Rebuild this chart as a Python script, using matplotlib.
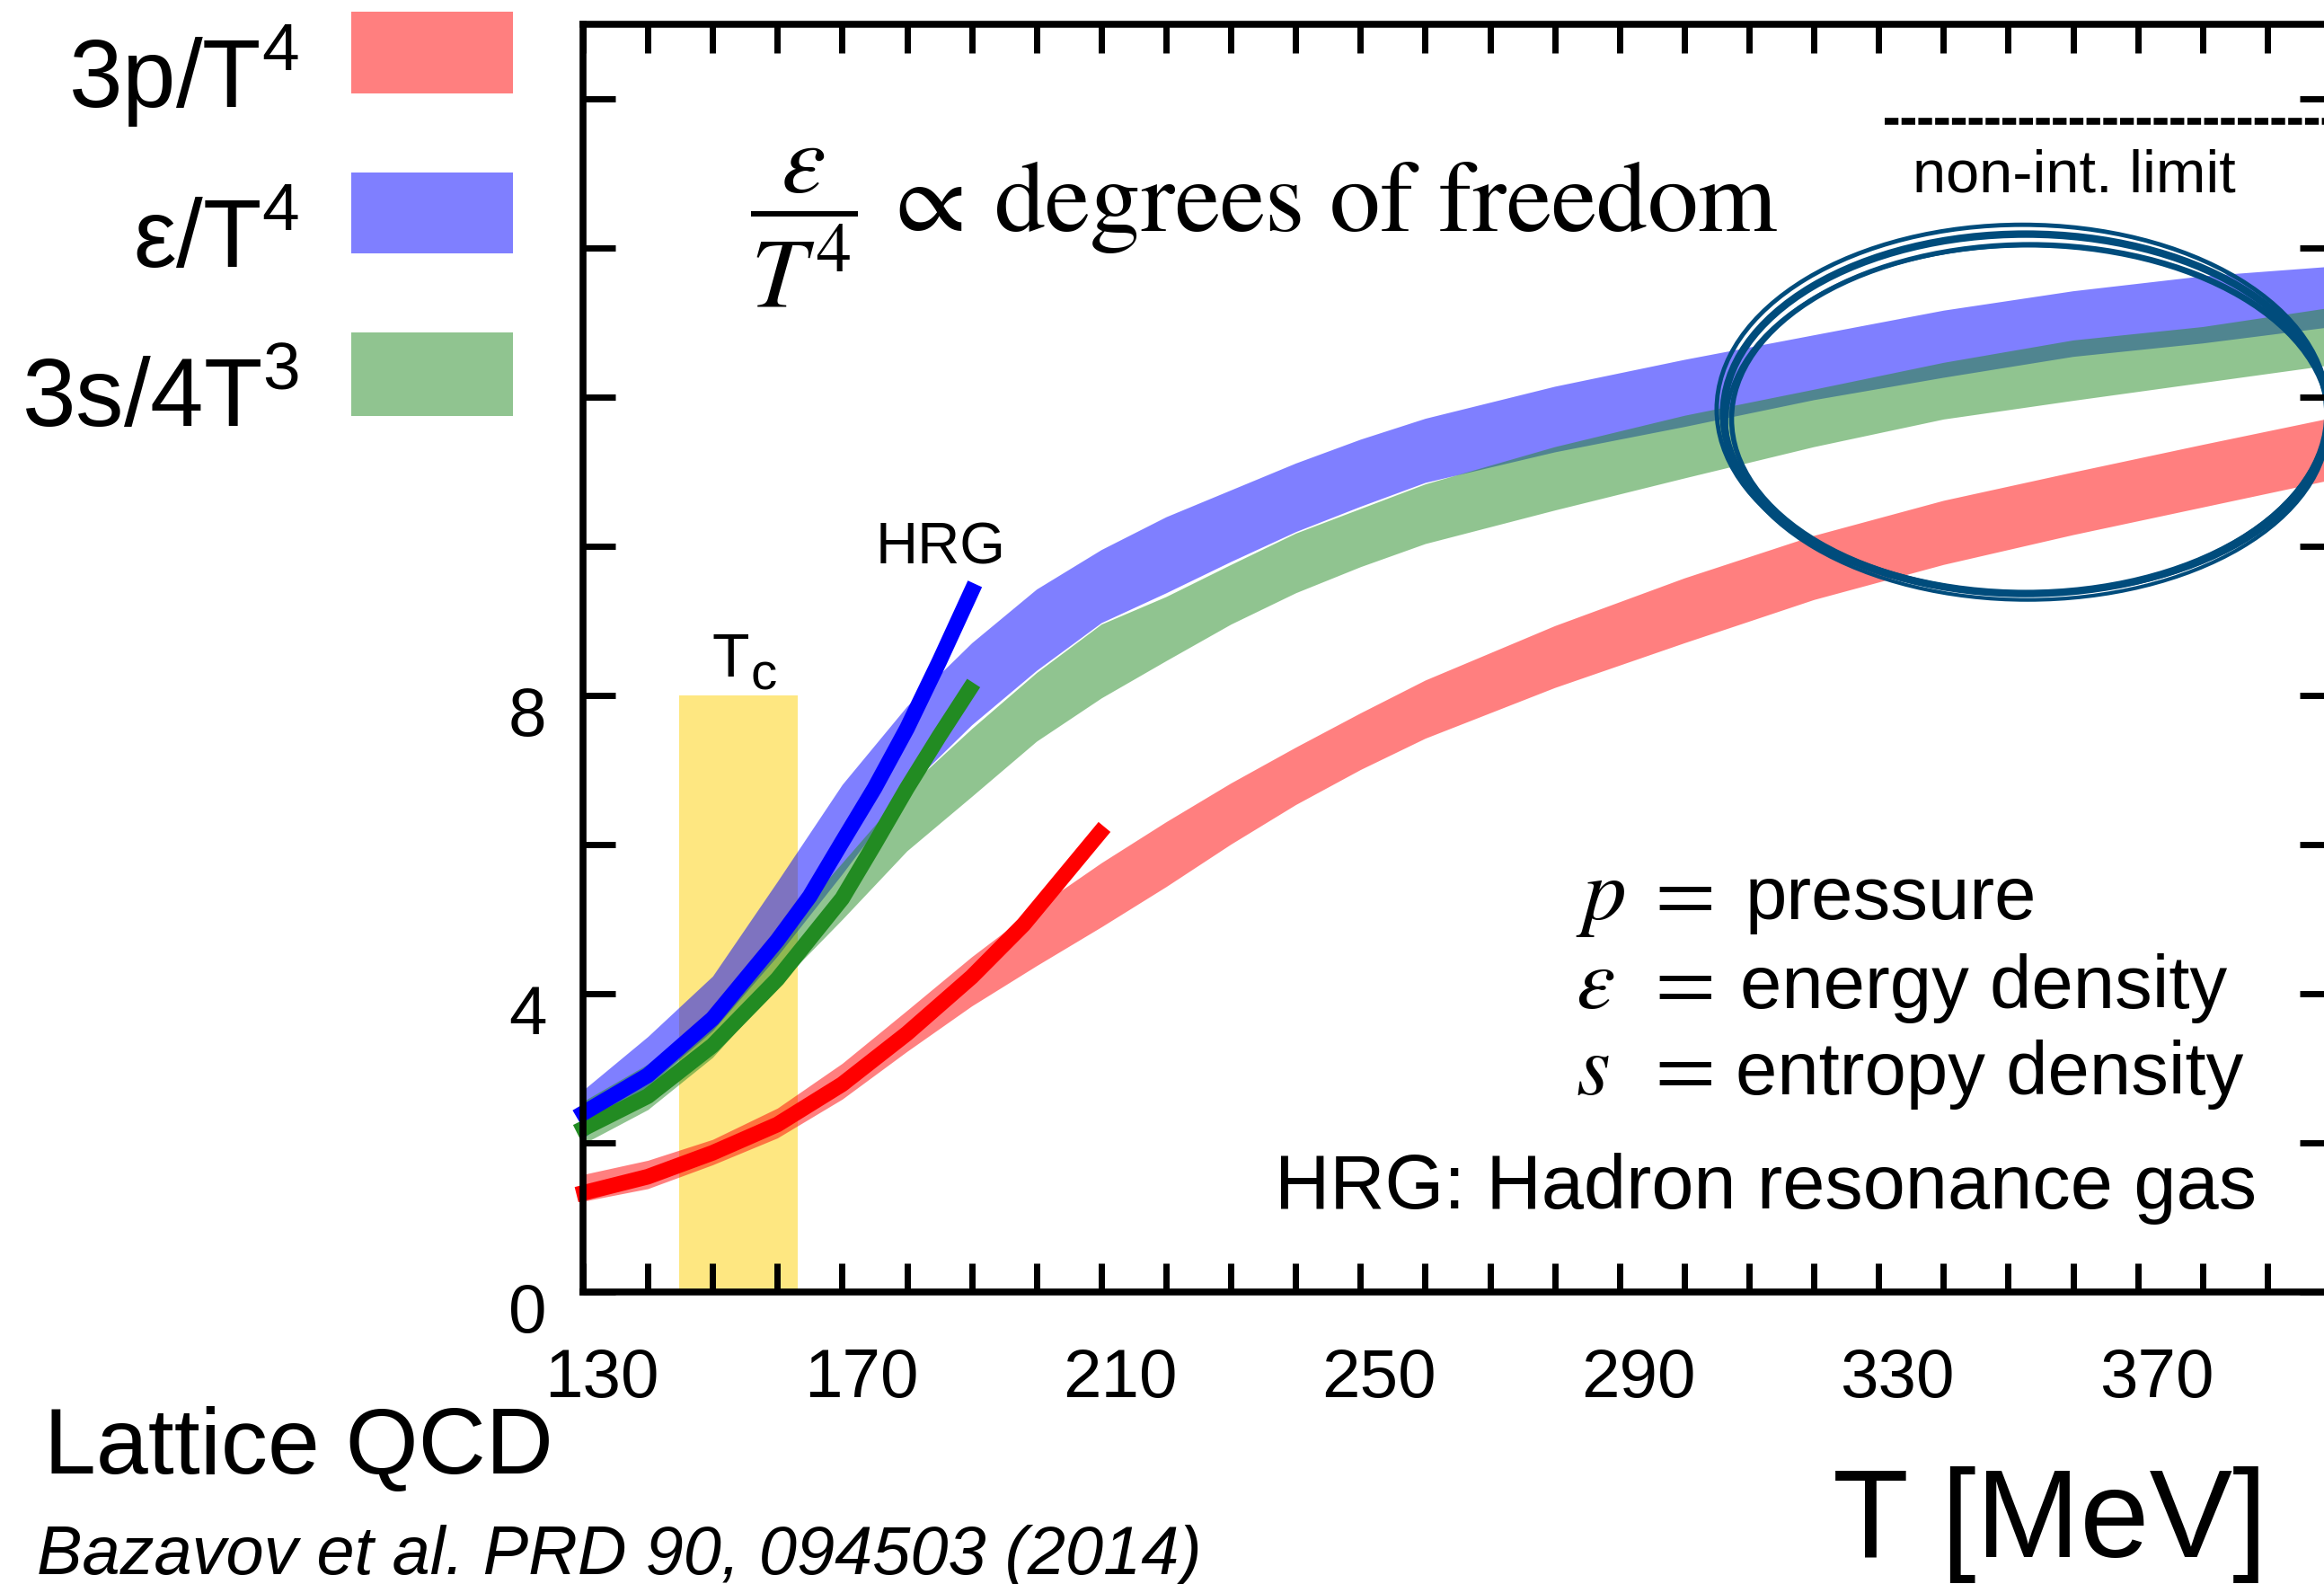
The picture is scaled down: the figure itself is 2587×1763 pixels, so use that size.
import matplotlib
matplotlib.use('Agg')
import matplotlib.pyplot as plt
from matplotlib.patches import Rectangle, Ellipse
from matplotlib.transforms import ScaledTranslation

W, H = 2587, 1763
SANS = 'Liberation Sans'

# lattice bands (T in MeV), lower / upper edge
T_band = [130, 140, 150, 160, 170, 180, 190, 200, 210, 220, 230, 240, 250, 260,
          280, 300, 320, 340, 360, 380, 400]
p3_lo = [1.21, 1.38, 1.70, 2.06, 2.58, 3.22, 3.83, 4.37, 4.89, 5.43, 6.00, 6.53, 7.00, 7.42,
         8.10, 8.70, 9.28, 9.75, 10.15, 10.52, 10.89]
p3_hi = [1.57, 1.76, 2.04, 2.46, 3.06, 3.77, 4.49, 5.15, 5.75, 6.30, 6.82, 7.30, 7.76, 8.20,
         8.93, 9.57, 10.14, 10.61, 10.99, 11.36, 11.72]
eps_lo = [2.05, 2.75, 3.50, 4.50, 5.60, 6.75, 7.60, 8.33, 8.97, 9.37, 9.79, 10.19, 10.53, 10.85,
          11.26, 11.60, 11.96, 12.26, 12.54, 12.72, 12.94]
eps_hi = [2.70, 3.42, 4.23, 5.50, 6.80, 7.85, 8.70, 9.42, 9.95, 10.39, 10.75, 11.11, 11.43, 11.71,
          12.14, 12.50, 12.83, 13.16, 13.42, 13.62, 13.75]
s_lo = [1.98, 2.44, 3.14, 4.10, 4.99, 5.91, 6.64, 7.38, 7.96, 8.46, 8.95, 9.37, 9.72, 10.03,
        10.48, 10.91, 11.33, 11.70, 11.95, 12.19, 12.43]
s_hi = [2.55, 3.05, 3.75, 4.75, 5.75, 6.75, 7.55, 8.30, 8.95, 9.32, 9.75, 10.17, 10.50, 10.83,
        11.33, 11.75, 12.10, 12.46, 12.76, 12.94, 13.20]

# HRG curves
hrg_p_T = [129, 140, 150, 160, 170, 180, 190, 198, 210.5]
hrg_p = [1.30, 1.54, 1.86, 2.24, 2.78, 3.46, 4.22, 4.92, 6.23]
hrg_e_T = [129, 140, 150, 160, 165, 170, 175, 180, 185, 190.5]
hrg_e = [2.34, 2.90, 3.66, 4.71, 5.30, 6.03, 6.75, 7.55, 8.45, 9.49]
hrg_s_T = [129, 140, 150, 160, 170, 175, 180, 185, 190.3]
hrg_s = [2.14, 2.62, 3.30, 4.19, 5.27, 6.00, 6.75, 7.45, 8.16]

tc_range = [144.8, 163.2]
tc_top = 8
sb_T = [331, 400]
sb_val = [15.69, 15.69]

xticks = list(range(130, 401, 10))
xlabels = [str(t) if (t - 130) % 40 == 0 else '' for t in xticks]
yticks = list(range(0, 17, 2))
ylabels = [str(v) if v in (0, 4, 8) else '' for v in yticks]


def fxy(X, Y):
    return X / W, 1 - Y / H


fig = plt.figure(figsize=(W / 100, H / 100), dpi=100)
ax = fig.add_axes([649 / W, 1 - 1437.5 / H, (2596 - 649) / W, (1437.5 - 26.5) / H])

ax.fill_between(tc_range, 0, tc_top, color='#fee781', lw=0)
ax.fill_between(T_band, p3_lo, p3_hi, color='red', alpha=0.5, lw=0)
ax.fill_between(T_band, eps_lo, eps_hi, color='blue', alpha=0.5, lw=0)
ax.fill_between(T_band, s_lo, s_hi, color='forestgreen', alpha=0.5, lw=0)

ax.plot(hrg_p_T, hrg_p, color='red', lw=12.5, solid_capstyle='butt', clip_on=False)
ax.plot(hrg_s_T, hrg_s, color='forestgreen', lw=12.5, solid_capstyle='butt', clip_on=False)
ax.plot(hrg_e_T, hrg_e, color='blue', lw=12.5, solid_capstyle='butt', clip_on=False)

ax.plot(sb_T, sb_val, color='black', lw=5.5, dashes=(2, 0.45))

# hand drawn circle, a few rough strokes
for dx, dy, w, h, lw in [(0, 0, 93.3, 4.82, 6), (0.7, -0.07, 92.2, 4.68, 4),
                         (-0.5, 0.06, 94.4, 4.95, 3.5), (0.3, -0.12, 93.0, 4.75, 3)]:
    ax.add_patch(Ellipse((352.7 + dx, 11.77 + dy), w, h, fill=False,
                         edgecolor='#004c7c', lw=lw, clip_on=False))

ax.set_xlim(130, 400)
ax.set_ylim(0, 17)
ax.set_xticks(xticks)
ax.set_xticklabels(xlabels)
ax.set_yticks(yticks)
ax.set_yticklabels(ylabels)
ax.tick_params(direction='in', top=True, right=True, width=5, labelsize=55)
ax.tick_params(axis='x', length=23, pad=45)
ax.tick_params(axis='y', length=26, pad=29)
for sp in ax.spines.values():
    sp.set_linewidth(5.5)
for lab in ax.get_xticklabels() + ax.get_yticklabels():
    lab.set_fontfamily(SANS)
off_x = ScaledTranslation(0.21, 0, fig.dpi_scale_trans)
off_y = ScaledTranslation(0, -0.18, fig.dpi_scale_trans)
for lab in ax.get_xticklabels():
    lab.set_transform(lab.get_transform() + off_x)
for lab in ax.get_yticklabels():
    lab.set_transform(lab.get_transform() + off_y)

# in-plot labels
fig.text(*fxy(793, 753), 'T', fontsize=49, family=SANS, va='baseline')
fig.text(*fxy(836, 768), 'c', fontsize=42, family=SANS, va='baseline')
fig.text(*fxy(975, 628), 'HRG', fontsize=47, family=SANS, va='baseline')
fig.text(*fxy(2129, 213), 'non-int. limit', fontsize=48, family=SANS, va='baseline')

fig.text(*fxy(835, 257), r'$\dfrac{\varepsilon}{T^4}$', fontsize=80,
         math_fontfamily='stix', va='baseline')
fig.text(*fxy(980, 257), r'$\propto$', fontsize=82, math_fontfamily='stix', va='baseline')
fig.text(*fxy(1106, 257), r'$\mathrm{degrees\ of\ freedom}$', fontsize=81.5,
         math_fontfamily='stix', va='baseline')

for sym, yb in [(r'$p$', 1023), (r'$\varepsilon$', 1122), (r'$s$', 1218)]:
    fig.text(*fxy(1754, yb), sym, fontsize=70, math_fontfamily='stix', va='baseline')
    fig.text(*fxy(1828, yb), r'$=$', fontsize=70, math_fontfamily='stix', va='baseline')
for txt, x0, yb in [('pressure', 1943, 1023), ('energy density', 1937, 1122),
                    ('entropy density', 1932, 1218)]:
    fig.text(*fxy(x0, yb), txt, fontsize=60, family=SANS, va='baseline')
fig.text(*fxy(2512, 1345), 'HRG: Hadron resonance gas', fontsize=61, family=SANS,
         va='baseline', ha='right')

# legend
leg_labels = [r'3p/T$^\mathregular{4}$', r'ε/T$^\mathregular{4}$', r'3s/4T$^\mathregular{3}$']
leg_colors = ['red', 'blue', 'forestgreen']
leg_box_y = [(13, 104), (192, 282), (370, 463)]
leg_base = [120, 298, 475]
for lab, col, (y0, y1), yb in zip(leg_labels, leg_colors, leg_box_y, leg_base):
    fig.add_artist(Rectangle(fxy(391, y1), 180 / W, (y1 - y0) / H, transform=fig.transFigure,
                             facecolor=col, alpha=0.5, edgecolor='none'))
    fig.text(*fxy(333, yb), lab, fontsize=77, family=SANS, ha='right', va='baseline')

fig.text(*fxy(49, 1640), 'Lattice QCD', fontsize=75, family=SANS, va='baseline')
fig.text(*fxy(41, 1752), 'Bazavov et al. PRD 90, 094503 (2014)', fontsize=54.5, family=SANS,
         style='italic', va='baseline')
fig.text(*fxy(2524, 1733), 'T [MeV]', fontsize=100, family=SANS, ha='right', va='baseline')

fig.savefig('out.png', dpi=100)
